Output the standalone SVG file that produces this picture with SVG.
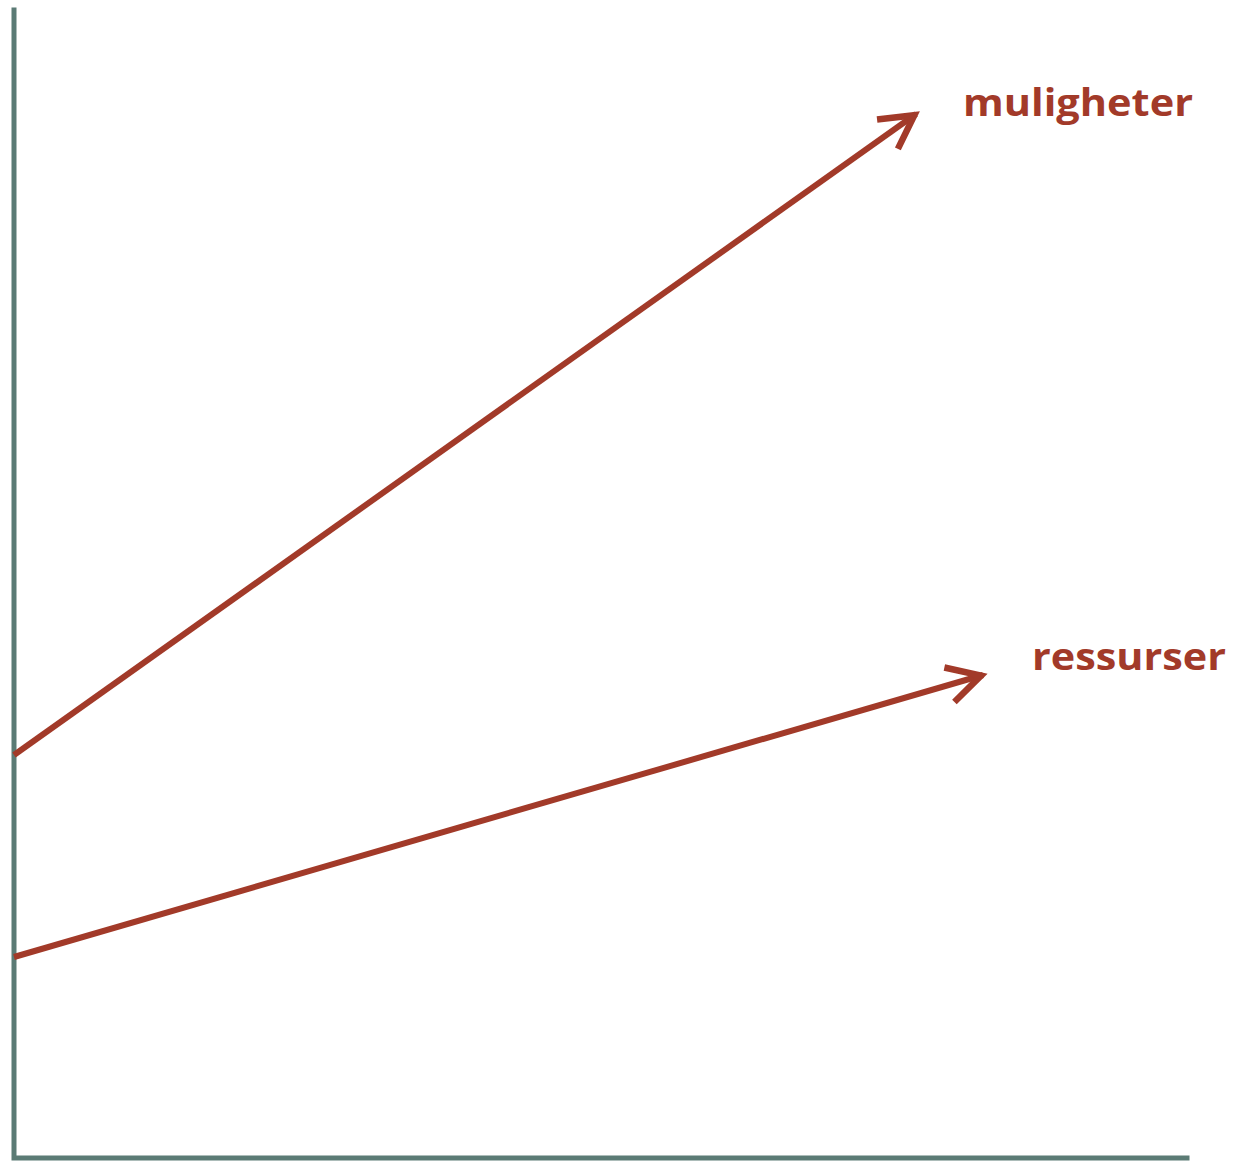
<svg xmlns="http://www.w3.org/2000/svg" width="1242" height="1167" viewBox="0 0 1242 1167">
<style>
.axis{stroke:#5b7b75;stroke-width:5;fill:none;stroke-linecap:square}
.arr{stroke:#a23a29;stroke-width:6;fill:none}
.lbl{font-family:"Open Sans","Liberation Sans",sans-serif;font-weight:bold;font-size:38px;fill:#a23a29}
</style>
<defs>
<marker id="head" markerUnits="userSpaceOnUse" viewBox="-45 -25 50 50" refX="0" refY="0" markerWidth="50" markerHeight="50" orient="auto">
<path d="M-35,-18 L-2,0 L-35,18" stroke="#a23a29" stroke-width="6.5" fill="none" stroke-linejoin="miter"/>
</marker>
</defs>
<g id="axes">
<path class="axis" d="M14,10 L14,1158 L1187,1158"/>
</g>
<g id="connectors">
<line class="arr" x1="14" y1="755" x2="916" y2="114" marker-end="url(#head)"/>
<line class="arr" x1="14" y1="957" x2="983" y2="675" marker-end="url(#head)"/>
</g>
<g id="label-muligheter">
<text class="lbl" x="963" y="116" textLength="230" lengthAdjust="spacingAndGlyphs">muligheter</text>
</g>
<g id="label-ressurser">
<text class="lbl" x="1032" y="670" textLength="194" lengthAdjust="spacingAndGlyphs">ressurser</text>
</g>
</svg>
